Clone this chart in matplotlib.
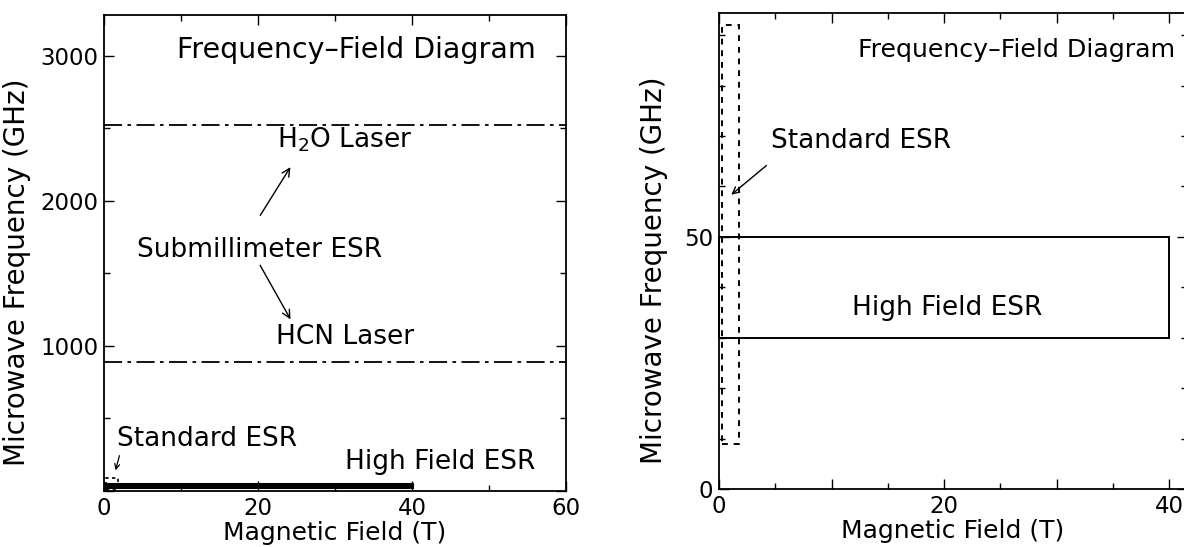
import matplotlib
matplotlib.use("Agg")
import matplotlib.pyplot as plt
from matplotlib.patches import Rectangle
from matplotlib.ticker import MultipleLocator, FixedLocator, FuncFormatter

# Operating ranges of the ESR techniques
std_field = [0.3, 1.8]      # T
std_freq = [9, 92]          # GHz
hf_field = [0, 40]          # T
hf_freq = [30, 50]          # GHz

# Far-infrared laser lines used for submillimeter ESR
laser_names = ["H$_2$O Laser", "HCN Laser"]
laser_freq = [2520, 890]    # GHz

title = "Frequency\u2013Field Diagram"
xlabel = "Magnetic Field (T)"
ylabel = "Microwave Frequency (GHz)"

plt.rcParams["font.family"] = ["DejaVu Sans"]
plt.rcParams["mathtext.fontset"] = "dejavusans"

W, H = 1184, 547
fig = plt.figure(figsize=(W / 100, H / 100), dpi=100)
fig.patch.set_facecolor("white")

ax1 = fig.add_axes([104 / W, 1 - 491 / H, (566 - 104) / W, (491 - 15) / H])
ax2 = fig.add_axes([719 / W, 1 - 489 / H, (1187 - 719) / W, (489 - 13) / H])

TICK_FS = 16.5
ANN_FS = 19


def style_axes(ax):
    for s in ax.spines.values():
        s.set_linewidth(1.3)
    ax.tick_params(which="both", direction="in", top=True, right=True,
                   labelsize=TICK_FS, width=1.0, pad=4)
    ax.tick_params(which="major", length=7)
    ax.tick_params(which="minor", length=4)
    ax.set_xlabel(xlabel, fontsize=18, labelpad=1)
    ax.set_ylabel(ylabel, fontsize=20)


def box(ax, xr, yr, **kw):
    ax.add_patch(Rectangle((xr[0], yr[0]), xr[1] - xr[0], yr[1] - yr[0],
                           fill=False, edgecolor="black", **kw))


# ---------------- full range panel ----------------
ax1.set_xlim(0, 60)
ax1.set_ylim(0, 3280)
style_axes(ax1)
ax1.xaxis.set_major_locator(MultipleLocator(20))
ax1.xaxis.set_minor_locator(MultipleLocator(10))
ax1.yaxis.set_major_locator(MultipleLocator(1000))
ax1.yaxis.set_minor_locator(MultipleLocator(500))
ax1.yaxis.set_major_formatter(FuncFormatter(lambda v, p: "" if v == 0 else f"{v:.0f}"))
ax1.yaxis.set_label_coords(-0.158, 0.46)

for f in laser_freq:
    ax1.plot([0, 60], [f, f], color="black", lw=1.3,
             linestyle=(0, (10, 3, 2, 3)), clip_on=False)

box(ax1, hf_field, hf_freq, lw=2.2)
box(ax1, std_field, std_freq, lw=1.2, linestyle=(0, (2, 2)))

ax1.text(9.5, 3041, title, fontsize=20.5, ha="left", va="center")
ax1.text(22.5, 2420, laser_names[0], fontsize=ANN_FS, ha="left", va="center")
ax1.text(4.3, 1662, "Submillimeter ESR", fontsize=ANN_FS, ha="left", va="center")
ax1.text(22.3, 1062, laser_names[1], fontsize=ANN_FS, ha="left", va="center")
ax1.text(1.7, 359, "Standard ESR", fontsize=ANN_FS, ha="left", va="center")
ax1.text(31.3, 200, "High Field ESR", fontsize=ANN_FS, ha="left", va="center")

arrow = dict(arrowstyle="->", color="black", lw=1.0, mutation_scale=14)
ax1.annotate("", xy=(24.4, 2248), xytext=(20.1, 1883), arrowprops=arrow)
ax1.annotate("", xy=(24.4, 1166), xytext=(20.1, 1572), arrowprops=arrow)
ax1.annotate("", xy=(1.4, 124), xytext=(2.1, 262),
             arrowprops=dict(arrowstyle="->", color="black", lw=0.9, mutation_scale=9))

# ---------------- low frequency zoom ----------------
ax2.set_xlim(0, 41.6)
ax2.set_ylim(0, 94.4)
style_axes(ax2)
ax2.xaxis.set_major_locator(MultipleLocator(10))
ax2.xaxis.set_minor_locator(MultipleLocator(5))
ax2.xaxis.set_major_formatter(FuncFormatter(lambda v, p: f"{v:.0f}" if v % 20 == 0 else ""))
ax2.yaxis.set_major_locator(FixedLocator([0, 50]))
ax2.yaxis.set_minor_locator(MultipleLocator(10))
ax2.yaxis.set_label_coords(-0.109, 0.46)

box(ax2, hf_field, hf_freq, lw=1.4, clip_on=False)
box(ax2, std_field, std_freq, lw=1.4, linestyle=(0, (3, 3)))

ax2.text(12.4, 87.1, title, fontsize=18.2, ha="left", va="center")
ax2.text(4.6, 69, "Standard ESR", fontsize=ANN_FS, ha="left", va="center")
ax2.text(11.8, 35.9, "High Field ESR", fontsize=ANN_FS, ha="left", va="center")
ax2.annotate("", xy=(0.9, 58), xytext=(4.4, 64.5),
             arrowprops=dict(arrowstyle="->", color="black", lw=1.0, mutation_scale=12))

fig.savefig("out.png", dpi=100, facecolor="white")
